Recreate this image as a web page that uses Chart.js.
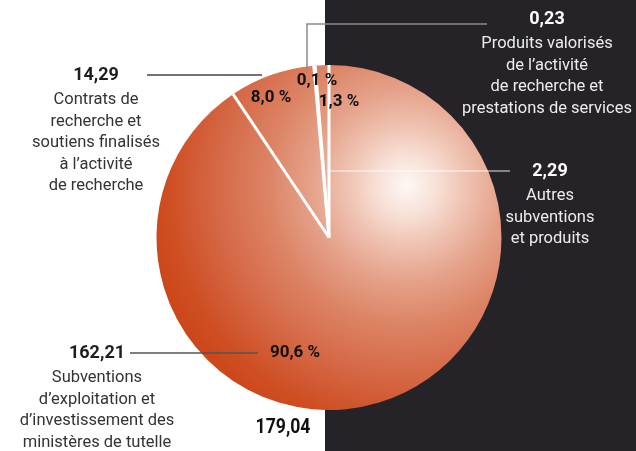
<!DOCTYPE html>
<html lang="fr">
<head>
<meta charset="utf-8">
<script src="https://cdn.jsdelivr.net/npm/chart.js@4.4.0/dist/chart.umd.min.js"></script>
<style>
  html, body { margin: 0; padding: 0; background: #ffffff; }
  #wrap { width: 636px; height: 451px; position: relative; }
</style>
</head>
<body>
<div id="wrap"><canvas id="budgetPie"></canvas></div>
<script>
// Données (M€)
const categories = [
    'Contrats de recherche et soutiens finalisés à l’activité de recherche',
    'Produits valorisés de l’activité de recherche et prestations de services',
    'Autres subventions et produits',
    'Subventions d’exploitation et d’investissement des ministères de tutelle'
];
const values = [14.29, 0.23, 2.29, 162.21];
const valueLabels = ['14,29', '0,23', '2,29', '162,21'];
const percentLabels = ['8,0 %', '0,1 %', '1,3 %', '90,6 %'];
const descriptionLines = [
    ['Contrats de', 'recherche et', 'soutiens finalisés', 'à l’activité', 'de recherche'],
    ['Produits valorisés', 'de l’activité', 'de recherche et', 'prestations de services'],
    ['Autres', 'subventions', 'et produits'],
    ['Subventions', 'd’exploitation et', 'd’investissement des', 'ministères de tutelle']
];
const totalLabel = '179,04';

// Mise en page des étiquettes
const FONT = 'Roboto, "Noto Sans", sans-serif';
const PIE_RADIUS = 172.5;
const DARK_FROM_X = 325;
const callouts = [
    { x: 96,  y: 75,  dark: false, line: [[147, 75], [262, 75]], lineColor: '#444' },
    { x: 547, y: 19,  dark: true,  line: [[307, 70], [307, 24], [487, 24]], lineColor: '#8a8a8a' },
    { x: 550, y: 171, dark: true,  line: [[327, 171], [510, 171]], lineColor: 'rgba(255,255,255,0.6)' },
    { x: 97,  y: 353, dark: false, line: [[130, 353], [258, 353]], lineColor: '#555' }
];
const percentPos = [[271, 98], [317, 81], [339, 102], [295, 353]];
const totalPos = [283, 428];

const total = values.reduce((a, b) => a + b, 0);
const startRotation = -(values[0] + values[1] + values[2]) / total * 360;

// dégradé "sphère" : reflet en haut à droite
function sphereGradient(chart) {
    const area = chart.chartArea;
    if (!area) return '#d9603a';
    const cx = (area.left + area.right) / 2;
    const cy = (area.top + area.bottom) / 2;
    const r = PIE_RADIUS;
    const hx = cx + 0.45 * r, hy = cy - 0.30 * r;
    const g = chart.ctx.createRadialGradient(hx, hy, 0, hx, hy, 1.58 * r);
    g.addColorStop(0, '#fdf8f5');
    g.addColorStop(0.11, '#f8e0d6');
    g.addColorStop(0.22, '#efc2b1');
    g.addColorStop(0.35, '#e5a28a');
    g.addColorStop(0.51, '#dc8465');
    g.addColorStop(0.70, '#d56846');
    g.addColorStop(0.88, '#ce4e22');
    g.addColorStop(1, '#cb4417');
    return g;
}

const backdrop = {
    id: 'backdrop',
    beforeDraw(chart) {
        const { ctx, width, height } = chart;
        ctx.save();
        ctx.fillStyle = '#ffffff';
        ctx.fillRect(0, 0, width, height);
        ctx.fillStyle = '#252228';
        ctx.fillRect(DARK_FROM_X, 0, width - DARK_FROM_X, height);
        ctx.restore();
    }
};

const separators = {
    id: 'separators',
    afterDatasetsDraw(chart) {
        const { ctx } = chart;
        const arcs = chart.getDatasetMeta(0).data;
        ctx.save();
        ctx.strokeStyle = '#ffffff';
        ctx.lineWidth = 3;
        arcs.forEach(arc => {
            const { x, y, startAngle, outerRadius } = arc.getProps(['x', 'y', 'startAngle', 'outerRadius'], true);
            ctx.beginPath();
            ctx.moveTo(x, y);
            ctx.lineTo(x + Math.cos(startAngle) * outerRadius, y + Math.sin(startAngle) * outerRadius);
            ctx.stroke();
        });
        ctx.restore();
    }
};

const annotations = {
    id: 'annotations',
    afterDraw(chart) {
        const { ctx } = chart;
        ctx.save();
        ctx.textAlign = 'center';
        ctx.textBaseline = 'middle';

        callouts.forEach((c, i) => {
            ctx.strokeStyle = c.lineColor;
            ctx.lineWidth = 1.5;
            ctx.beginPath();
            c.line.forEach(([px, py], k) => k ? ctx.lineTo(px, py) : ctx.moveTo(px, py));
            ctx.stroke();

            ctx.fillStyle = c.dark ? '#ffffff' : '#1e1e1e';
            ctx.font = 'bold 18px ' + FONT;
            ctx.fillText(valueLabels[i], c.x, c.y);
            ctx.fillStyle = c.dark ? '#ececec' : '#333333';
            ctx.font = '16.5px ' + FONT;
            descriptionLines[i].forEach((t, k) => ctx.fillText(t, c.x, c.y + 25 + k * 21.5));
        });

        ctx.fillStyle = '#111111';
        ctx.font = 'bold 17px ' + FONT;
        percentLabels.forEach((t, i) => ctx.fillText(t, percentPos[i][0], percentPos[i][1]));

        // total, un peu plus haut et plus serré
        ctx.translate(totalPos[0], totalPos[1]);
        ctx.scale(0.84, 1);
        ctx.font = 'bold 21px ' + FONT;
        ctx.fillText(totalLabel, 0, 0);
        ctx.restore();
    }
};

new Chart(document.getElementById('budgetPie').getContext('2d'), {
    type: 'pie',
    data: {
        labels: categories,
        datasets: [{
            data: values,
            backgroundColor: c => sphereGradient(c.chart),
            borderWidth: 0,
            radius: PIE_RADIUS
        }]
    },
    options: {
        responsive: true,
        maintainAspectRatio: false,
        animation: false,
        rotation: startRotation,
        layout: { padding: { left: 22, top: 24, right: 0, bottom: 0 } },
        plugins: {
            legend: { display: false },
            tooltip: { enabled: false }
        }
    },
    plugins: [backdrop, separators, annotations]
});
</script>
</body>
</html>
